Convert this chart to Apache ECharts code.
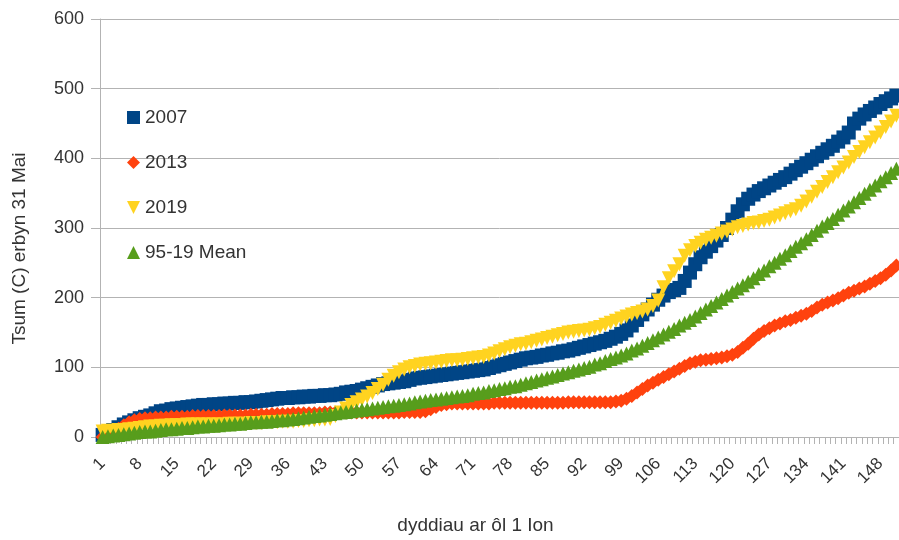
<!DOCTYPE html>
<html>
<head>
<meta charset="utf-8">
<script src="https://cdn.jsdelivr.net/npm/echarts@6/dist/echarts.min.js"></script>
<style>html,body{margin:0;padding:0;background:#fff}#c{width:899px;height:540px}</style>
</head>
<body>
<div id="c"></div>
<script>
// Days after 1 Jan (1..151)
const days = [];
for (let i = 1; i <= 151; i++) days.push(String(i));

const seriesNames = ['2007', '2013', '2019', '95-19 Mean'];

const y2007 = [
  3,6,10,14,18,21,24,27,29,31,
  34,37,38,40,41,42,43,44,45,46,
  46,47,47,48,48,49,49,50,50,51,
  52,53,54,55,56,56,57,57,58,58,
  59,59,60,60,61,62,64,65,66,68,
  70,72,74,76,77,78,79,80,82,84,
  85,86,87,88,89,90,91,92,93,94,
  95,96,97,99,101,103,105,107,109,111,
  113,114,115,117,118,120,121,123,124,126,
  128,130,132,134,136,138,141,144,148,153,
  160,168,176,183,190,197,203,208,211,214,
  224,236,248,258,266,274,282,290,300,312,
  324,334,342,348,353,357,361,365,369,373,
  378,383,388,393,398,403,408,413,418,424,
  430,437,450,457,463,468,473,478,482,486,
  490
];

const y2013 = [
  0,2,6,12,17,21,24,26,27,27,
  28,28,28,29,29,29,29,30,30,30,
  30,30,30,31,31,31,31,31,32,32,
  32,32,33,33,33,33,34,34,34,34,
  34,34,35,35,35,35,35,35,35,35,
  35,35,35,35,35,35,35,36,36,36,
  36,37,40,43,46,47,48,48,48,48,
  48,48,48,48,49,49,49,49,49,49,
  49,49,49,49,49,49,49,49,50,50,
  50,50,50,50,50,50,50,51,52,55,
  59,64,69,74,78,82,86,90,94,98,
  102,106,108,110,111,112,113,114,116,118,
  122,128,134,141,147,152,156,160,163,166,
  168,171,174,177,181,186,190,193,196,199,
  203,207,210,213,216,220,224,228,233,239,
  246
];

const y2019 = [
  8,9,9,10,10,11,12,13,14,15,
  15,16,16,17,17,17,18,18,18,18,
  18,18,18,18,19,19,19,19,20,20,
  20,21,21,21,22,22,22,23,23,24,
  24,25,25,26,30,35,41,46,50,54,
  58,63,69,75,82,88,93,97,100,102,
  104,105,106,107,108,109,110,110,111,112,
  113,114,115,117,120,123,126,129,131,133,
  134,136,138,140,142,144,146,148,150,151,
  152,153,154,156,158,161,164,167,170,173,
  176,178,180,183,188,196,215,228,238,248,
  260,268,274,279,283,286,289,292,295,298,
  301,303,305,307,308,310,312,315,318,321,
  324,327,332,338,345,352,359,366,373,380,
  387,394,402,409,416,423,430,437,445,453,
  461
];

const yMean = [
  0,1,2,3,4,5,6,7,8,8,
  9,10,11,11,12,13,13,14,15,15,
  16,16,17,18,18,19,19,20,21,21,
  22,22,23,24,24,25,26,27,28,29,
  30,31,32,33,34,35,36,37,38,39,
  40,41,42,43,44,45,46,47,48,50,
  51,52,53,54,55,56,57,58,59,60,
  62,63,64,66,67,69,70,72,73,75,
  77,79,81,83,85,87,89,91,93,95,
  97,99,101,104,106,109,112,114,117,120,
  124,127,131,135,139,143,147,151,155,160,
  164,168,173,178,183,188,193,198,203,208,
  213,218,223,228,234,239,245,250,256,261,
  267,273,278,284,290,296,302,307,313,319,
  325,331,337,343,349,355,361,367,373,379,
  385
];

const yTicks = { min: 0, max: 600, interval: 100 };

const colors = ['#004586', '#ff420e', '#ffd320', '#579d1c'];
const downTri = 'path://M0,0 L10,0 L5,10 Z';
const symbols = ['rect', 'diamond', downTri, 'triangle'];
const values = [y2007, y2013, y2019, yMean];

const FONT = '"Liberation Sans", Arial, sans-serif';

const chart = echarts.init(document.getElementById('c'), null, { renderer: 'canvas' });
chart.setOption({
  animation: false,
  backgroundColor: '#ffffff',
  textStyle: { fontFamily: FONT },
  grid: { left: 100, top: 19, width: 806, height: 421, containLabel: false },
  legend: {
    orient: 'vertical',
    left: 122,
    top: 103,
    itemWidth: 13,
    itemHeight: 13,
    itemGap: 26,
    textStyle: { fontSize: 19, color: '#333', fontFamily: FONT, lineHeight: 19 },
    data: seriesNames.map((n, i) => ({ name: n, icon: symbols[i] }))
  },
  xAxis: {
    type: 'category',
    data: days,
    boundaryGap: true,
    name: 'dyddiau ar ôl 1 Ion',
    nameLocation: 'middle',
    nameGap: 79,
    nameTextStyle: { fontSize: 19, color: '#333', fontFamily: FONT, padding: [0, 48, 0, 0] },
    axisLine: { lineStyle: { color: '#b3b3b3', width: 1 } },
    axisTick: { show: true, interval: 0, length: 7, lineStyle: { color: '#b3b3b3' } },
    axisLabel: { interval: 6, rotate: 45, fontSize: 17, color: '#333', margin: 24, fontFamily: FONT },
    splitLine: { show: false }
  },
  yAxis: {
    type: 'value',
    min: yTicks.min,
    max: yTicks.max,
    interval: yTicks.interval,
    name: 'Tsum (C) erbyn 31 Mai',
    nameLocation: 'middle',
    nameGap: 71,
    nameTextStyle: { fontSize: 19, color: '#333', fontFamily: FONT, padding: [0, 41, 0, 0] },
    axisLine: { show: true, lineStyle: { color: '#b3b3b3', width: 1 } },
    axisTick: { show: true, length: 9, lineStyle: { color: '#b3b3b3' } },
    axisLabel: { fontSize: 18, color: '#333', margin: 16, fontFamily: FONT },
    splitLine: { show: true, lineStyle: { color: '#b3b3b3', width: 1 } }
  },
  series: seriesNames.map((n, i) => ({
    name: n,
    type: 'line',
    data: values[i],
    color: colors[i],
    symbol: symbols[i],
    symbolSize: 14,
    showSymbol: true,
    showAllSymbol: true,
    lineStyle: { width: 3, color: colors[i] },
    itemStyle: { color: colors[i] },
    emphasis: { disabled: true },
    z: 2 + i
  }))
});
</script>
</body>
</html>
